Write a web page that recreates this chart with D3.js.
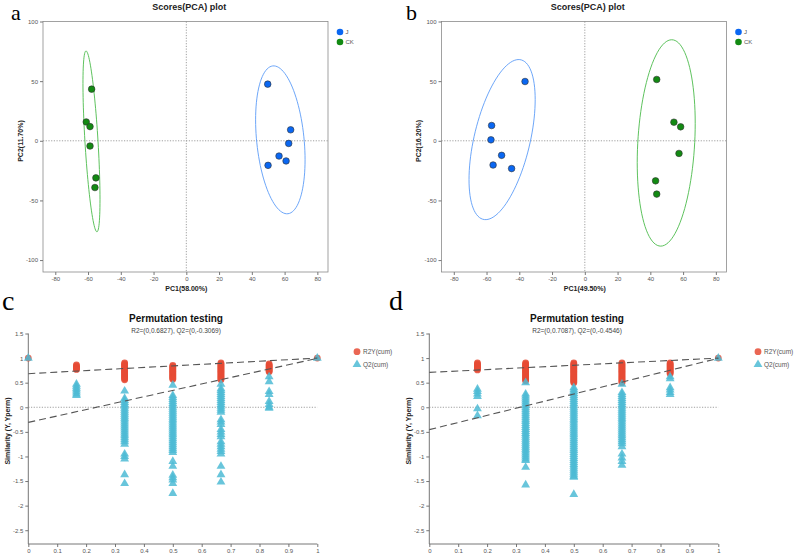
<!DOCTYPE html>
<html>
<head>
<meta charset="utf-8">
<script src="https://cdn.jsdelivr.net/npm/d3@7"></script>
<style>
body { margin: 0; background: #fff; }
text { font-family: "Liberation Sans", Arial, sans-serif; }
</style>
</head>
<body>
<div id="chart"></div>
<script>
// ---- PCA score plots (panels a, b) ----
var pcaTicksX = [-80, -60, -40, -20, 0, 20, 40, 60, 80];
var pcaTicksY = [-100, -50, 0, 50, 100];

// [PC1, PC2] scores
var aJ  = [[49.7, 47.5], [63.7, 9.2], [62.5, -2.2], [56.6, -12.8], [60.9, -16.9], [49.9, -20.6]];
var aCK = [[-57.8, 43.3], [-61.1, 15.8], [-58.8, 11.9], [-58.8, -4.4], [-55.2, -31.1], [-55.8, -39.2]];
var bJ  = [[-36.5, 49.7], [-56.9, 12.8], [-57.3, 0.8], [-50.8, -12.2], [-56.0, -20.3], [-44.7, -23.3]];
var bCK = [[43.9, 51.4], [54.4, 15.6], [58.5, 11.7], [57.5, -10.6], [43.2, -33.6], [43.9, -44.7]];

// confidence ellipses: centre, half-extent in x / y, correlation
var aEllJ  = [57.4, 0.8, 15.1, 62.0, -0.27];
var aEllCK = [-57.9, -0.5, 5.2, 75.8, -0.64];
var bEllJ  = [-50.5, 1.0, 20.2, 67.1, 0.50];
var bEllCK = [49.7, -1.8, 17.7, 86.5, 0.19];

// ---- permutation tests (panels c, d) ----
var permX = [0, 1 / 6, 2 / 6, 3 / 6, 4 / 6, 5 / 6, 1];
var permTicksX = [0, 0.1, 0.2, 0.3, 0.4, 0.5, 0.6, 0.7, 0.8, 0.9, 1];
var permTicksY = [-2.5, -2, -1.5, -1, -0.5, 0, 0.5, 1, 1.5];

var cR2Y = [
    [1.0],
    [0.86, 0.84, 0.82, 0.8, 0.78, 0.77],
    [0.9, 0.88, 0.86, 0.84, 0.82, 0.8, 0.78, 0.76, 0.74, 0.72, 0.7, 0.68, 0.66, 0.64, 0.62, 0.6, 0.58, 0.56],
    [0.85, 0.83, 0.81, 0.79, 0.77, 0.75, 0.73, 0.71, 0.69, 0.67, 0.65, 0.63, 0.61, 0.59, 0.57],
    [0.9, 0.88, 0.86, 0.84, 0.82, 0.8, 0.78, 0.76, 0.74, 0.72, 0.7, 0.68, 0.66, 0.64, 0.62, 0.6, 0.58, 0.56],
    [0.88, 0.86, 0.84, 0.82, 0.8, 0.78, 0.76, 0.74, 0.72],
    [1.0]
];
var cQ2 = [
    [1.0],
    [0.47, 0.43, 0.39, 0.35, 0.31, 0.27, 0.24],
    [0.33, 0.18, 0.14, 0.1, 0.06, 0.02, -0.02, -0.06, -0.1, -0.14, -0.18, -0.22, -0.26, -0.3, -0.34, -0.38,
     -0.42, -0.46, -0.5, -0.54, -0.58, -0.62, -0.66, -0.7, -0.75, -0.95, -1.0, -1.05, -1.37, -1.55],
    [0.45, 0.24, 0.2, 0.16, 0.12, 0.08, 0.04, 0, -0.04, -0.08, -0.12, -0.16, -0.2, -0.24, -0.28, -0.32, -0.36,
     -0.4, -0.44, -0.48, -0.52, -0.56, -0.6, -0.64, -0.68, -0.72, -0.76, -0.8, -0.84, -0.88, -0.92, -1.1, -1.2,
     -1.38, -1.43, -1.48, -1.55, -1.75],
    [0.47, 0.38, 0.34, 0.3, 0.26, 0.22, 0.18, 0.14, 0.1, 0.06, 0.02, -0.02, -0.06, -0.1, -0.25, -0.3, -0.35,
     -0.45, -0.5, -0.55, -0.6, -0.7, -0.75, -0.8, -0.85, -0.9, -0.95, -1.2, -1.37, -1.52],
    [0.62, 0.52, 0.32, 0.26, 0.12, 0.06, 0.0, -0.02],
    [1.0]
];
var cLines = { r2: [0.6827, 1.0], q2: [-0.3069, 0.995] };

var dR2Y = [
    [],
    [0.9, 0.88, 0.86, 0.84, 0.82, 0.8, 0.78, 0.76],
    [0.9, 0.88, 0.86, 0.84, 0.82, 0.8, 0.78, 0.76, 0.74, 0.72, 0.7, 0.68, 0.66, 0.64, 0.62, 0.6, 0.58, 0.56, 0.54],
    [0.9, 0.88, 0.86, 0.84, 0.82, 0.8, 0.78, 0.76, 0.74, 0.72, 0.7, 0.68, 0.66, 0.64, 0.62, 0.6, 0.58, 0.56, 0.54, 0.52, 0.5],
    [0.9, 0.88, 0.86, 0.84, 0.82, 0.8, 0.78, 0.76, 0.74, 0.72, 0.7, 0.68, 0.66, 0.64, 0.62, 0.6, 0.58, 0.56, 0.54, 0.52, 0.5],
    [0.9, 0.88, 0.86, 0.84, 0.82, 0.8, 0.78, 0.76, 0.74, 0.72, 0.7, 0.68],
    [1.0]
];
var dQ2 = [
    [],
    [0.37, 0.32, 0.27, 0.22, -0.03, -0.17],
    [0.5, 0.27, 0.23, 0.19, 0.15, 0.11, 0.07, 0.03, -0.01, -0.05, -0.09, -0.13, -0.17, -0.21, -0.25, -0.29, -0.33,
     -0.37, -0.41, -0.45, -0.49, -0.53, -0.57, -0.61, -0.65, -0.69, -0.73, -0.77, -0.81, -0.85, -0.89, -0.93, -0.97,
     -1.01, -1.05, -1.08, -1.22, -1.58],
    [0.4, 0.36, 0.32, 0.28, 0.24, 0.2, 0.16, 0.12, 0.08, 0.04, 0, -0.04, -0.08, -0.12, -0.16, -0.2, -0.24, -0.28,
     -0.32, -0.36, -0.4, -0.44, -0.48, -0.52, -0.56, -0.6, -0.64, -0.68, -0.72, -0.76, -0.8, -0.84, -0.88, -0.92,
     -0.96, -1.0, -1.04, -1.08, -1.12, -1.16, -1.2, -1.24, -1.28, -1.32, -1.36, -1.4, -1.42, -1.77],
    [0.47, 0.3, 0.26, 0.22, 0.18, 0.14, 0.1, 0.06, 0.02, -0.02, -0.06, -0.1, -0.14, -0.18, -0.22, -0.26, -0.3,
     -0.34, -0.38, -0.42, -0.46, -0.5, -0.54, -0.58, -0.62, -0.66, -0.7, -0.74, -0.8, -0.95, -1.03, -1.1, -1.18],
    [0.62, 0.58, 0.4, 0.35, 0.3, 0.26],
    [1.0]
];
var dLines = { r2: [0.7087, 1.0], q2: [-0.4546, 0.995] };

var blue = '#0a67f2', green = '#128a12';
var red = '#e64b35', cyan = '#4dbbd5';

var svg = d3.select('#chart').append('svg')
    .attr('width', 794)
    .attr('height', 554)
    .style('background', '#fff');

function letter(txt, x, y, size) {
    svg.append('text')
        .attr('x', x).attr('y', y)
        .style('font-family', '"Liberation Serif", "Times New Roman", serif')
        .style('font-size', size + 'px')
        .attr('fill', '#000')
        .text(txt);
}

function styleAxis(g) {
    g.selectAll('.domain').remove();
    g.selectAll('.tick line').attr('stroke', '#777');
    g.selectAll('.tick text').attr('fill', '#555').style('font-size', '6px');
}

function drawPCA(off, J, CK, ellJ, ellCK, xLab, yLab) {
    var x = d3.scaleLinear().domain([-87.5, 86.5]).range([off + 43, off + 328]);
    var y = d3.scaleLinear().domain([-110, 100]).range([272, 21.5]);
    var g = svg.append('g');

    g.append('rect')
        .attr('x', x.range()[0]).attr('y', y.range()[1])
        .attr('width', x.range()[1] - x.range()[0])
        .attr('height', y.range()[0] - y.range()[1])
        .attr('fill', 'none').attr('stroke', '#8a8a8a').attr('stroke-width', 0.8);

    g.append('g')
        .attr('transform', 'translate(0,' + y.range()[0] + ')')
        .call(d3.axisBottom(x).tickValues(pcaTicksX).tickSize(3).tickPadding(2).tickFormat(String))
        .call(styleAxis);
    g.append('g')
        .attr('transform', 'translate(' + x.range()[0] + ',0)')
        .call(d3.axisLeft(y).tickValues(pcaTicksY).tickSize(3).tickPadding(2).tickFormat(String))
        .call(styleAxis);

    // zero reference lines
    g.append('line')
        .attr('x1', x(0)).attr('x2', x(0)).attr('y1', y.range()[1]).attr('y2', y.range()[0])
        .attr('stroke', '#888').attr('stroke-width', 0.8).attr('stroke-dasharray', '1.2,1.5');
    g.append('line')
        .attr('x1', x.range()[0]).attr('x2', x.range()[1]).attr('y1', y(0)).attr('y2', y(0))
        .attr('stroke', '#888').attr('stroke-width', 0.8).attr('stroke-dasharray', '1.2,1.5');

    var line = d3.line().x(function(d) { return x(d[0]); }).y(function(d) { return y(d[1]); });
    function ellipse(e, col) {
        var pts = d3.range(0, 101).map(function(i) {
            var t = i / 100 * 2 * Math.PI;
            return [e[0] + e[2] * Math.cos(t),
                    e[1] + e[3] * (e[4] * Math.cos(t) + Math.sqrt(1 - e[4] * e[4]) * Math.sin(t))];
        });
        g.append('path').attr('d', line(pts))
            .attr('fill', 'none').attr('stroke', col).attr('stroke-width', 0.9);
    }
    ellipse(ellJ, '#5c9cf7');
    ellipse(ellCK, '#4cbb4c');

    function points(data, col) {
        g.append('g').selectAll('circle')
            .data(data)
            .enter()
            .append('circle')
            .attr('cx', function(d) { return x(d[0]); })
            .attr('cy', function(d) { return y(d[1]); })
            .attr('r', 3.3)
            .attr('fill', col)
            .attr('stroke', '#333')
            .attr('stroke-width', 0.6);
    }
    points(J, blue);
    points(CK, green);

    g.append('text')
        .attr('x', x(0) + 3).attr('y', 10)
        .attr('text-anchor', 'middle')
        .style('font-size', '9px').style('font-weight', 'bold').attr('fill', '#222')
        .text('Scores(PCA) plot');
    g.append('text')
        .attr('x', x(0)).attr('y', 291)
        .attr('text-anchor', 'middle')
        .style('font-size', '7px').style('font-weight', 'bold').attr('fill', '#222')
        .text(xLab);
    g.append('text')
        .attr('transform', 'translate(' + (off + 22.5) + ',' + 141 + ') rotate(-90)')
        .attr('text-anchor', 'middle')
        .style('font-size', '7px').style('font-weight', 'bold').attr('fill', '#222')
        .text(yLab);

    var leg = [['J', blue], ['CK', green]];
    leg.forEach(function(l, i) {
        g.append('circle')
            .attr('cx', off + 340).attr('cy', 32 + i * 10)
            .attr('r', 3.3).attr('fill', l[1]);
        g.append('text')
            .attr('x', off + 345.5).attr('y', 34 + i * 10)
            .style('font-size', '6px').attr('fill', '#555')
            .text(l[0]);
    });
}

function drawPerm(off, R2Y, Q2, lines, subtitle) {
    var x = d3.scaleLinear().domain([0, 1]).range([off + 28.3, off + 317.3]);
    var y = d3.scaleLinear().domain([-2.78, 1.5]).range([544, 333.5]);
    var g = svg.append('g');

    g.append('g')
        .attr('transform', 'translate(0,' + y.range()[0] + ')')
        .call(d3.axisBottom(x).tickValues(permTicksX).tickSize(3).tickPadding(2).tickFormat(String))
        .call(styleAxis);
    g.append('g')
        .attr('transform', 'translate(' + x.range()[0] + ',0)')
        .call(d3.axisLeft(y).tickValues(permTicksY).tickSize(3).tickPadding(2).tickFormat(String))
        .call(styleAxis);
    g.append('line')
        .attr('x1', x.range()[0]).attr('x2', x.range()[1]).attr('y1', y.range()[0]).attr('y2', y.range()[0])
        .attr('stroke', '#666').attr('stroke-width', 0.9);
    g.append('line')
        .attr('x1', x.range()[0]).attr('x2', x.range()[0]).attr('y1', y.range()[1]).attr('y2', y.range()[0])
        .attr('stroke', '#666').attr('stroke-width', 0.9);

    g.append('line')
        .attr('x1', x.range()[0]).attr('x2', x.range()[1]).attr('y1', y(0)).attr('y2', y(0))
        .attr('stroke', '#888').attr('stroke-width', 0.8).attr('stroke-dasharray', '1.2,1.5');

    // flatten columns into points
    var circ = [], tri = [];
    permX.forEach(function(px, i) {
        R2Y[i].forEach(function(v) { circ.push([px, v]); });
        Q2[i].forEach(function(v) { tri.push([px, v]); });
    });

    g.append('g').selectAll('circle')
        .data(circ)
        .enter()
        .append('circle')
        .attr('cx', function(d) { return x(d[0]); })
        .attr('cy', function(d) { return y(d[1]); })
        .attr('r', 3.4)
        .attr('fill', red)
        .attr('fill-opacity', 0.85);

    var triangle = d3.symbol().type(d3.symbolTriangle).size(34);
    g.append('g').selectAll('path')
        .data(tri)
        .enter()
        .append('path')
        .attr('d', triangle)
        .attr('transform', function(d) { return 'translate(' + x(d[0]) + ',' + y(d[1]) + ')'; })
        .attr('fill', cyan)
        .attr('fill-opacity', 0.85);

    // regression lines
    [lines.r2, lines.q2].forEach(function(l) {
        g.append('line')
            .attr('x1', x(0)).attr('y1', y(l[0]))
            .attr('x2', x(1)).attr('y2', y(l[1]))
            .attr('stroke', '#555').attr('stroke-width', 1.1).attr('stroke-dasharray', '7,4');
    });

    var cx = off + 176;
    g.append('text')
        .attr('x', cx).attr('y', 322)
        .attr('text-anchor', 'middle')
        .style('font-size', '10px').style('font-weight', 'bold').attr('fill', '#111')
        .text('Permutation testing');
    g.append('text')
        .attr('x', cx).attr('y', 333)
        .attr('text-anchor', 'middle')
        .style('font-size', '6.5px').attr('fill', '#444')
        .text(subtitle);
    g.append('text')
        .attr('transform', 'translate(' + (off + 9.5) + ',' + 431 + ') rotate(-90)')
        .attr('text-anchor', 'middle')
        .style('font-size', '7px').style('font-weight', 'bold').attr('fill', '#222')
        .text('Similarity (Y, Yperm)');

    g.append('circle')
        .attr('cx', off + 357).attr('cy', 351.7).attr('r', 3.4).attr('fill', red).attr('fill-opacity', 0.85);
    g.append('path')
        .attr('d', triangle)
        .attr('transform', 'translate(' + (off + 357) + ',364.5)')
        .attr('fill', cyan).attr('fill-opacity', 0.85);
    g.append('text').attr('x', off + 363).attr('y', 354)
        .style('font-size', '6.5px').attr('fill', '#555').text('R2Y(cum)');
    g.append('text').attr('x', off + 363).attr('y', 366.5)
        .style('font-size', '6.5px').attr('fill', '#555').text('Q2(cum)');
}

drawPCA(0, aJ, aCK, aEllJ, aEllCK, 'PC1(58.00%)', 'PC2(11.70%)');
drawPCA(398.5, bJ, bCK, bEllJ, bEllCK, 'PC1(49.50%)', 'PC2(16.20%)');
drawPerm(0, cR2Y, cQ2, cLines, 'R2=(0,0.6827), Q2=(0,-0.3069)');
drawPerm(401, dR2Y, dQ2, dLines, 'R2=(0,0.7087), Q2=(0,-0.4546)');

letter('a', 11, 20, 22);
letter('b', 406, 20, 22);
letter('c', 2, 310, 28);
letter('d', 389, 310, 28);
</script>
</body>
</html>
